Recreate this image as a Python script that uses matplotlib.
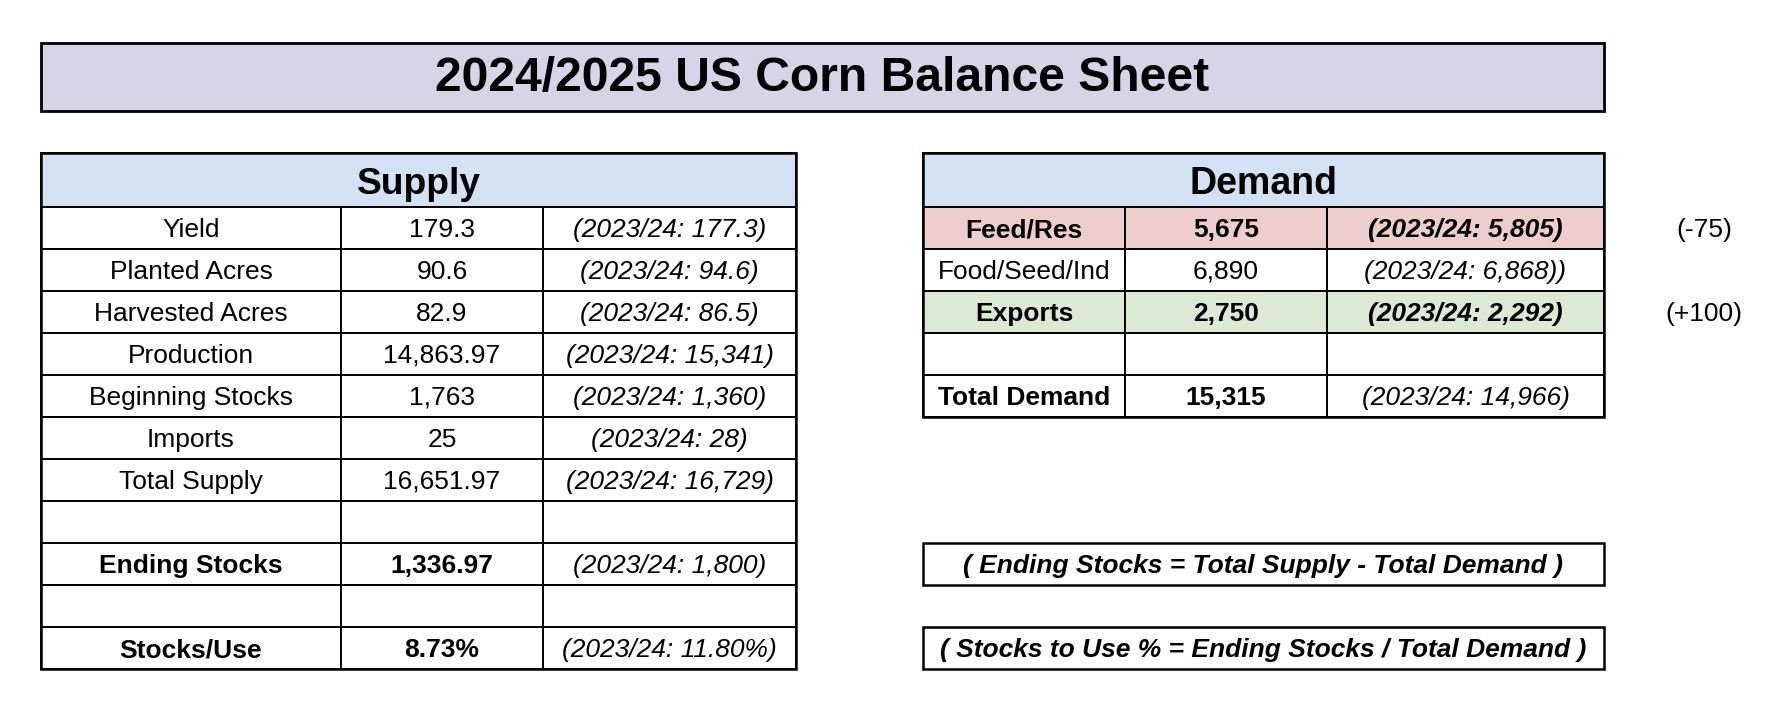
import matplotlib.pyplot as plt
from matplotlib.patches import Rectangle

plt.rcParams['font.family'] = ['Liberation Sans', 'DejaVu Sans']

titulo = "2024/2025 US Corn Balance Sheet"

# tabela de oferta (supply)
supply_labels = ["Yield", "Planted Acres", "Harvested Acres", "Production",
                 "Beginning Stocks", "Imports", "Total Supply", "",
                 "Ending Stocks", "", "Stocks/Use"]
supply_values = ["179.3", "90.6", "82.9", "14,863.97", "1,763", "25",
                 "16,651.97", "", "1,336.97", "", "8.73%"]
supply_prev = ["(2023/24: 177.3)", "(2023/24: 94.6)", "(2023/24: 86.5)",
               "(2023/24: 15,341)", "(2023/24: 1,360)", "(2023/24: 28)",
               "(2023/24: 16,729)", "", "(2023/24: 1,800)", "",
               "(2023/24: 11.80%)"]
supply_bold = [False, False, False, False, False, False, False, False,
               True, False, True]

# tabela de demanda (demand)
demand_labels = ["Feed/Res", "Food/Seed/Ind", "Exports", "", "Total Demand"]
demand_values = ["5,675", "6,890", "2,750", "", "15,315"]
demand_prev = ["(2023/24: 5,805)", "(2023/24: 6,868))", "(2023/24: 2,292)",
               "", "(2023/24: 14,966)"]
demand_changes = ["(-75)", "", "(+100)", "", ""]
demand_bold = [True, False, True, False, True]
demand_prev_bold = [True, False, True, False, False]
demand_fill = ["#EECDCD", "white", "#DCE9D5", "white", "white"]

formulas = ["( Ending Stocks = Total Supply - Total Demand )",
            "( Stocks to Use % = Ending Stocks / Total Demand )"]

fig = plt.figure(figsize=(17.72, 7.09), dpi=100)
ax = fig.add_axes([0, 0, 1, 1])
ax.set_xlim(0, 1772)
ax.set_ylim(709, 0)
ax.axis('off')

TXT = 19
ROW_H = 42
HEAD_H = 54


def caixa(x, y, w, h, cor='white', lw=1.4):
    ax.add_patch(Rectangle((x, y), w, h, facecolor=cor, edgecolor='black',
                           linewidth=lw, zorder=1))


# titulo
caixa(41, 43, 1563, 68, '#D9D3E8', lw=2.0)
ax.text(822, 78, titulo, fontsize=34.6, fontweight='bold', ha='center', va='center')


def tabela(x0, cols, header, header_fs, labels, values, prev, bold, prev_bold, fills):
    top = 153
    larg = cols[-1] - x0
    caixa(x0, top, larg, HEAD_H, '#D2E2F2')
    ax.text(x0 + larg / 2, top + HEAD_H / 2 + 4, header, fontsize=header_fs,
            fontweight='bold', ha='center', va='center')
    y = top + HEAD_H
    for i in range(len(labels)):
        bordas = [x0] + cols
        textos = [labels[i], values[i], prev[i]]
        for j in range(3):
            caixa(bordas[j], y, bordas[j + 1] - bordas[j], ROW_H, fills[i])
            peso = 'bold' if (bold[i] if j < 2 else prev_bold[i]) else 'normal'
            estilo = 'italic' if j == 2 else 'normal'
            ax.text((bordas[j] + bordas[j + 1]) / 2, y + ROW_H / 2 + 2, textos[j],
                    fontsize=TXT, fontweight=peso, fontstyle=estilo,
                    ha='center', va='center', zorder=3)
        y += ROW_H
    # contorno externo
    ax.add_patch(Rectangle((x0, top), larg, y - top, fill=False,
                           edgecolor='black', linewidth=1.8, zorder=2))


tabela(41, [341, 543, 796], "Supply", 26.7, supply_labels, supply_values, supply_prev,
       supply_bold, [False] * len(supply_labels), ["white"] * len(supply_labels))
tabela(923, [1125, 1327, 1604], "Demand", 27, demand_labels, demand_values, demand_prev,
       demand_bold, demand_prev_bold, demand_fill)

# variacoes ao lado da demanda
for i, c in enumerate(demand_changes):
    if c:
        ax.text(1704, 153 + HEAD_H + ROW_H * i + ROW_H / 2 + 2, c, fontsize=TXT,
                ha='center', va='center')

# formulas
for k, f in enumerate(formulas):
    y = 543 + 84 * k
    caixa(923, y, 681, ROW_H, lw=1.8)
    ax.text(1263, y + ROW_H / 2 + 2, f, fontsize=TXT, fontweight='bold',
            fontstyle='italic', ha='center', va='center')

plt.savefig('out.png', dpi=100)
